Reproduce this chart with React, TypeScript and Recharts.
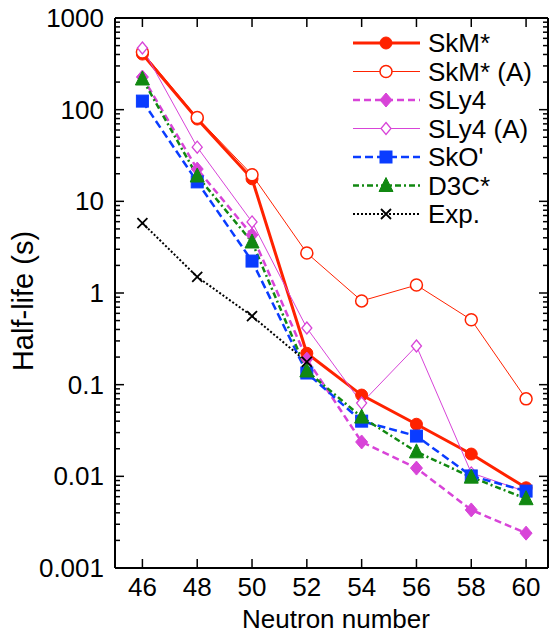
import { LineChart, Line, XAxis, YAxis, Legend } from 'recharts';

const neutrons = [46, 48, 50, 52, 54, 56, 58, 60];
const skm = [404, 79, 17.6, 0.22, 0.077, 0.037, 0.0175, 0.0075];
const skmA = [426, 82, 19.5, 2.73, 0.82, 1.22, 0.51, 0.07];
const sly4 = [227, 22.5, 4.3, 0.19, 0.0237, 0.0123, 0.0043, 0.0024];
const sly4A = [471, 39, 5.96, 0.415, 0.063, 0.264, 0.0109, 0.0068];
const sko = [124, 16.3, 2.23, 0.134, 0.04, 0.0275, 0.0101, 0.0069];
const d3c = [216, 18.9, 3.6, 0.141, 0.0443, 0.0185, 0.0098, 0.0057];
const exp = [5.8, 1.5, 0.56, 0.177, null, null, null, null];

const xTicks = [46, 48, 50, 52, 54, 56, 58, 60];
const yMajor = [0.001, 0.01, 0.1, 1, 10, 100, 1000];
const yLabels = ['0.001', '0.01', '0.1', '1', '10', '100', '1000'];
const yMinorMult = [2, 3, 4, 5, 6, 7, 8, 9];

const yTicks: number[] = [];
yMajor.forEach((d, i) => {
  yTicks.push(d);
  if (i < yMajor.length - 1) yMinorMult.forEach((m) => yTicks.push(+(d * m).toPrecision(3)));
});

const data = neutrons.map((n, i) => ({
  n,
  skm: skm[i],
  skmA: skmA[i],
  sly4: sly4[i],
  sly4A: sly4A[i],
  sko: sko[i],
  d3c: d3c[i],
  exp: exp[i],
}));

const RED = '#ff2200';
const MAG = '#d844d8';
const BLUE = '#0a3cff';
const GREEN = '#118811';
const FONT = 'Liberation Sans, Arial, Helvetica, sans-serif';

type Shape = 'circle' | 'ocircle' | 'diamond' | 'odiamond' | 'square' | 'triangle' | 'cross';

function Marker({ shape, cx, cy, color }: { shape: Shape; cx: number; cy: number; color: string }) {
  switch (shape) {
    case 'circle':
      return <circle cx={cx} cy={cy} r={6} fill={color} stroke={color} />;
    case 'ocircle':
      return <circle cx={cx} cy={cy} r={6} fill="#fff" stroke={color} strokeWidth={1.5} />;
    case 'diamond':
      return <path d={`M${cx},${cy - 7}L${cx + 6},${cy}L${cx},${cy + 7}L${cx - 6},${cy}Z`} fill={color} stroke={color} />;
    case 'odiamond':
      return <path d={`M${cx},${cy - 6}L${cx + 5},${cy}L${cx},${cy + 6}L${cx - 5},${cy}Z`} fill="#fff" stroke={color} strokeWidth={1.3} />;
    case 'square':
      return <rect x={cx - 6} y={cy - 6} width={12} height={12} fill={color} stroke={color} />;
    case 'triangle':
      return <path d={`M${cx},${cy - 8}L${cx + 7},${cy + 6}L${cx - 7},${cy + 6}Z`} fill={color} stroke={color} />;
    default:
      return (
        <path d={`M${cx - 5},${cy - 5}L${cx + 5},${cy + 5}M${cx + 5},${cy - 5}L${cx - 5},${cy + 5}`} stroke={color} strokeWidth={1.8} fill="none" />
      );
  }
}

const dotFor = (shape: Shape, color: string) => (props: any) => {
  const { cx, cy, index, value } = props;
  if (cy == null || value == null || Number.isNaN(cy)) return <g key={`e${index}`} />;
  return <Marker key={`${shape}${index}`} shape={shape} cx={cx} cy={cy} color={color} />;
};

const series = [
  { key: 'skm', name: 'SkM*', color: RED, width: 3, dash: undefined, shape: 'circle' as Shape },
  { key: 'skmA', name: 'SkM* (A)', color: RED, width: 1, dash: undefined, shape: 'ocircle' as Shape },
  { key: 'sly4', name: 'SLy4', color: MAG, width: 2.5, dash: '7 4', shape: 'diamond' as Shape },
  { key: 'sly4A', name: 'SLy4 (A)', color: MAG, width: 1, dash: undefined, shape: 'odiamond' as Shape },
  { key: 'sko', name: "SkO'", color: BLUE, width: 2.5, dash: '8 4', shape: 'square' as Shape },
  { key: 'd3c', name: 'D3C*', color: GREEN, width: 2.5, dash: '6 3 2 3', shape: 'triangle' as Shape },
  { key: 'exp', name: 'Exp.', color: '#000', width: 2, dash: '2 2', shape: 'cross' as Shape },
];

const LeftTick = (props: any) => {
  const { x, y, payload } = props;
  const idx = yMajor.indexOf(payload.value);
  const major = idx >= 0;
  return (
    <g>
      <line x1={x} x2={x + (major ? 9 : 5)} y1={y} y2={y} stroke="#000" strokeWidth={1.5} />
      {major && (
        <text x={x - 11} y={y} textAnchor="end" dominantBaseline="central" fontSize={26} fontFamily={FONT} fill="#000">
          {yLabels[idx]}
        </text>
      )}
    </g>
  );
};

const RightTick = (props: any) => {
  const { x, y, payload } = props;
  const major = yMajor.indexOf(payload.value) >= 0;
  return <line x1={x} x2={x - (major ? 9 : 5)} y1={y} y2={y} stroke="#000" strokeWidth={1.5} />;
};

const BottomTick = (props: any) => {
  const { x, y, payload } = props;
  return (
    <g>
      <line x1={x} x2={x} y1={y} y2={y - 9} stroke="#000" strokeWidth={1.5} />
      <text x={x} y={y + 28} textAnchor="middle" fontSize={26} fontFamily={FONT} fill="#000">
        {payload.value}
      </text>
    </g>
  );
};

const TopTick = (props: any) => {
  const { x, y } = props;
  return <line x1={x} x2={x} y1={y} y2={y + 9} stroke="#000" strokeWidth={1.5} />;
};

const XTitle = () => (
  <text x={336} y={628} textAnchor="middle" fontSize={26} fontFamily={FONT} fill="#000">
    Neutron number
  </text>
);

const YTitle = () => (
  <text
    x={23}
    y={301}
    transform="rotate(-90, 23, 301)"
    textAnchor="middle"
    dominantBaseline="central"
    fontSize={29}
    fontFamily={FONT}
    fill="#000"
  >
    Half-life (s)
  </text>
);

const LegendBox = () => (
  <svg width={200} height={205} style={{ display: 'block' }}>
    {series.map((s, i) => {
      const y = 17 + i * 28.5;
      return (
        <g key={s.key}>
          <line x1={5} x2={72} y1={y} y2={y} stroke={s.color} strokeWidth={s.width} strokeDasharray={s.dash} />
          <Marker shape={s.shape} cx={38} cy={y} color={s.color} />
          <text x={80} y={y} dominantBaseline="central" fontSize={26} fontFamily={FONT} fill="#000">
            {s.name}
          </text>
        </g>
      );
    })}
  </svg>
);

export default function App() {
  return (
    <div style={{ position: 'absolute', left: 0, top: 0, background: '#fff' }}>
      <LineChart width={554} height={641} data={data} margin={{ top: 0, right: 0, bottom: 0, left: 0 }}>
        <XAxis
          xAxisId="b"
          dataKey="n"
          type="number"
          domain={[45, 60.8]}
          ticks={xTicks}
          interval={0}
          height={73}
          tickSize={0}
          tickMargin={0}
          tickLine={false}
          tick={<BottomTick />}
          axisLine={{ stroke: '#000', strokeWidth: 2 }}
          allowDataOverflow
          label={<XTitle />}
        />
        <XAxis
          xAxisId="t"
          orientation="top"
          dataKey="n"
          type="number"
          domain={[45, 60.8]}
          ticks={xTicks}
          interval={0}
          height={18}
          tickSize={0}
          tickMargin={0}
          tickLine={false}
          tick={<TopTick />}
          axisLine={{ stroke: '#000', strokeWidth: 2 }}
          allowDataOverflow
        />
        <YAxis
          yAxisId="l"
          scale="log"
          type="number"
          domain={[0.001, 1000]}
          ticks={yTicks}
          interval={0}
          width={115}
          tickSize={0}
          tickMargin={0}
          tickLine={false}
          tick={<LeftTick />}
          axisLine={{ stroke: '#000', strokeWidth: 2 }}
          allowDataOverflow
          label={<YTitle />}
        />
        <YAxis
          yAxisId="r"
          orientation="right"
          scale="log"
          type="number"
          domain={[0.001, 1000]}
          ticks={yTicks}
          interval={0}
          width={6}
          tickSize={0}
          tickMargin={0}
          tickLine={false}
          tick={<RightTick />}
          axisLine={{ stroke: '#000', strokeWidth: 2 }}
          allowDataOverflow
        />
        <Legend
          layout="vertical"
          align="center"
          verticalAlign="middle"
          content={<LegendBox />}
          wrapperStyle={{ position: 'absolute', left: 348, top: 26, width: 200, height: 205 }}
        />
        {series.map((s) => (
          <Line
            key={s.key}
            xAxisId="b"
            yAxisId="l"
            dataKey={s.key}
            name={s.name}
            stroke={s.color}
            strokeWidth={s.width}
            strokeDasharray={s.dash}
            dot={dotFor(s.shape, s.color)}
            activeDot={false}
            isAnimationActive={false}
            connectNulls={false}
          />
        ))}
      </LineChart>
    </div>
  );
}
